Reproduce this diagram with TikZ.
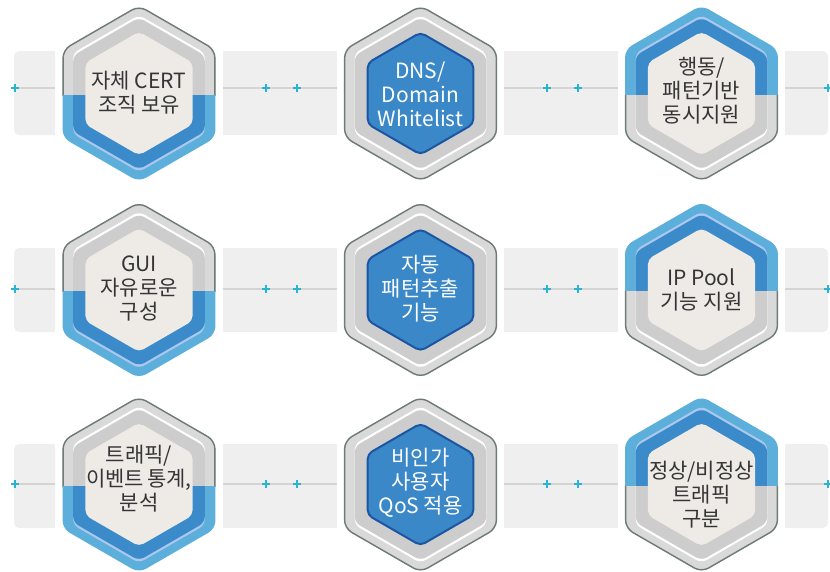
\documentclass[tikz,border=0pt]{standalone}
\usepackage{fontspec}
\setmainfont{Noto Sans CJK KR}

\definecolor{outline}{HTML}{6E7B74}
\definecolor{grayouter}{HTML}{D9D9D9}
\definecolor{grayinner}{HTML}{CDCDCD}
\definecolor{blueouter}{HTML}{5BAFDA}
\definecolor{blueinner}{HTML}{3B8BCB}
\definecolor{lavender}{HTML}{ADC8EE}
\definecolor{innerfill}{HTML}{EEEAE6}
\definecolor{midblue}{HTML}{3A88C8}
\definecolor{midborder}{HTML}{1C56A3}
\definecolor{barfill}{HTML}{EFEFEF}
\definecolor{barline}{HTML}{D4D4D4}
\definecolor{plusblue}{HTML}{2BB3D3}
\definecolor{textdark}{HTML}{353535}

\tikzset{
  darklabel/.style={align=center, text=textdark, inner sep=0pt, font=\fontsize{21}{24}\selectfont},
  lightlabel/.style={align=center, text=white, inner sep=0pt, font=\fontsize{21}{24}\selectfont},
  crossmark/.pic={\draw[plusblue, line width=1.4] (-4,0) -- (4,0) (0,-4) -- (0,4);}
}

% hexagon with pointy top, #1 = radius
\newcommand{\hexpath}[1]{(90:#1) -- (30:#1) -- (-30:#1) -- (-90:#1) -- (-150:#1) -- (150:#1) -- cycle}

% one coloured half of a badge ring
\newcommand{\badgehalf}[5]{%
  \begin{scope}
    \clip #1;
    \fill[#2, rounded corners=8] \hexpath{88.3};
    \path[#5, line width=1.4, rounded corners=8] \hexpath{87.6};
    \fill[#3, rounded corners=6, yshift=2.5pt] \hexpath{76};
    \fill[#3, rounded corners=6, yshift=-2.5pt] \hexpath{76};
    \fill[#4, rounded corners=6] \hexpath{76};
  \end{scope}}

% gray top, blue bottom
\newcommand{\badgelow}[2]{%
  \begin{scope}[shift={(#1,#2)}]
    \badgehalf{(-95,-100) rectangle (95,1.5)}{grayouter}{white}{grayinner}{draw=outline}
    \badgehalf{(-95,1.5) rectangle (95,100)}{blueouter}{lavender}{blueinner}{draw=none}
    \fill[innerfill, rounded corners=5] \hexpath{61.8};
  \end{scope}}

% blue top, gray bottom
\newcommand{\badgehigh}[2]{%
  \begin{scope}[shift={(#1,#2)}]
    \badgehalf{(-95,-100) rectangle (95,1.5)}{blueouter}{lavender}{blueinner}{draw=none}
    \badgehalf{(-95,1.5) rectangle (95,100)}{grayouter}{white}{grayinner}{draw=outline}
    \fill[innerfill, rounded corners=5] \hexpath{61.8};
  \end{scope}}

% gray ring, blue core
\newcommand{\badgemid}[2]{%
  \begin{scope}[shift={(#1,#2)}]
    \badgehalf{(-95,-100) rectangle (95,100)}{grayouter}{white}{grayinner}{draw=outline}
    \filldraw[fill=midblue, draw=midborder, line width=2, rounded corners=5] \hexpath{61};
  \end{scope}}

% band of gray boxes behind one row: #1 = box centre, #2 = rule height
\newcommand{\bandrow}[2]{%
  \fill[barfill, rounded corners=5] (14,#1-42) rectangle (55,#1+42);
  \fill[barfill] (35,#1-42) rectangle (55,#1+42);
  \fill[barfill] (223,#1-42) rectangle (337,#1+42);
  \fill[barfill] (504,#1-42) rectangle (618,#1+42);
  \fill[barfill, rounded corners=5] (785,#1-42) rectangle (828,#1+42);
  \fill[barfill] (785,#1-42) rectangle (805,#1+42);
  \draw[barline, line width=2.2] (15,#2) -- (55,#2) (223,#2) -- (337,#2)
    (504,#2) -- (618,#2) (785,#2) -- (830,#2);
  \pic at (15,#2) {crossmark};
  \pic at (266,#2) {crossmark};
  \pic at (297,#2) {crossmark};
  \pic at (547,#2) {crossmark};
  \pic at (578,#2) {crossmark};
  \pic at (828,#2) {crossmark};}

\begin{document}
\begin{tikzpicture}[x=1pt,y=-1pt]
\useasboundingbox (0,0) rectangle (830,571);

\bandrow{93}{88}
\bandrow{290}{289}
\bandrow{486}{484}

\badgelow{139}{93.5}
\badgemid{420.5}{93.5}
\badgehigh{701.5}{93.5}
\badgelow{139}{290}
\badgemid{420.5}{290}
\badgehigh{701.5}{290}
\badgelow{139}{484.5}
\badgemid{420.5}{484.5}
\badgehigh{701.5}{484.5}

\node[darklabel] (cert) at (139,93) {자체 CERT\\조직 보유};
\node[lightlabel] (dns) at (420.5,94) {DNS/\\Domain\\Whitelist};
\node[darklabel] (pattern) at (701.5,91) {행동/\\패턴기반\\동시지원};
\node[darklabel] (gui) at (139,288) {GUI\\자유로운\\구성};
\node[lightlabel] (extract) at (420.5,289) {자동\\패턴추출\\기능};
\node[darklabel] (ippool) at (701.5,290) {IP Pool\\기능 지원};
\node[darklabel] (traffic) at (139,479) {트래픽/\\이벤트\hspace{0.15em}통계,\\분석};
\node[lightlabel] (qos) at (420.5,483) {비인가\\사용자\\QoS 적용};
\node[darklabel] (normal) at (701.5,495) {정상/비정상\\트래픽\\구분};
\end{tikzpicture}
\end{document}
